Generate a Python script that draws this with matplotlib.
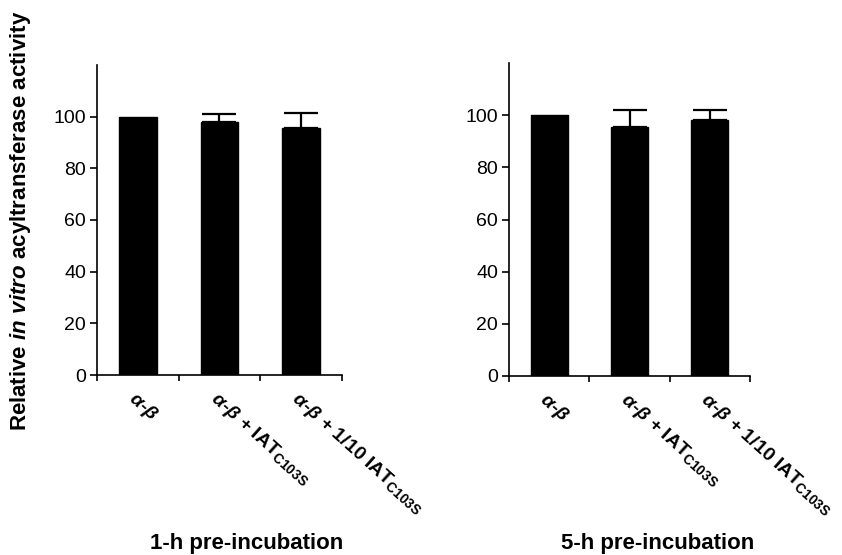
import matplotlib
matplotlib.use("Agg")
import matplotlib.pyplot as plt
import numpy as np

plt.rcParams['font.family'] = ['Liberation Sans', 'DejaVu Sans']
plt.rcParams['mathtext.fontset'] = 'custom'
plt.rcParams['mathtext.rm'] = 'Liberation Sans:bold'
plt.rcParams['mathtext.bf'] = 'Liberation Sans:bold'
plt.rcParams['mathtext.it'] = 'Liberation Sans:italic:bold'
plt.rcParams['mathtext.sf'] = 'Liberation Sans:bold'

categories = [r'$\alpha$-$\beta$',
              r'$\alpha$-$\beta$ + IAT$_{\mathrm{C103S}}$',
              r'$\alpha$-$\beta$ + 1/10 IAT$_{\mathrm{C103S}}$']
values_1h = [100.0, 98.0, 95.8]
errors_1h = [0.0, 2.9, 5.5]
values_5h = [100.0, 95.6, 98.1]
errors_5h = [0.0, 6.2, 4.0]
yticks = [0, 20, 40, 60, 80, 100]
panel_titles = ['1-h pre-incubation', '5-h pre-incubation']

fig = plt.figure(figsize=(8.42, 5.55), dpi=100)
ax1 = fig.add_axes([97/842, 1-375/555, 245/842, 310/555])
ax2 = fig.add_axes([509/842, 1-376/555, 241/842, 313/555])

for ax, vals, errs in [(ax1, values_1h, errors_1h), (ax2, values_5h, errors_5h)]:
    x = np.arange(len(vals))
    ax.bar(x, vals, width=0.46, color='black', edgecolor='black')
    for xi, v, e in zip(x, vals, errs):
        if e > 0:
            ax.errorbar([xi], [v], yerr=[[0], [e]], fmt='none', ecolor='black',
                        elinewidth=1.6, capsize=12, capthick=1.6)
    ax.set_xlim(-0.5, len(vals) - 0.5)
    ax.set_ylim(0, 120)
    ax.set_yticks(yticks)
    ax.set_yticklabels([str(t) for t in yticks], fontsize=14)
    ax.set_xticks(np.arange(len(vals) + 1) - 0.5)
    ax.set_xticklabels([])
    ax.tick_params(axis='x', direction='out', length=4, width=1.2)
    ax.tick_params(axis='y', direction='out', length=5, width=1.2, pad=3)
    ax.spines['top'].set_visible(False)
    ax.spines['right'].set_visible(False)
    ax.spines['left'].set_linewidth(1.2)
    ax.spines['bottom'].set_linewidth(1.2)
    for xi, lab in zip(x, categories):
        ax.annotate(lab, xy=(xi, 0), xycoords=('data', 'axes fraction'),
                    xytext=(-5, -15), textcoords='offset points',
                    rotation=-42, rotation_mode='anchor', ha='left', va='center',
                    fontsize=14, fontweight='bold', annotation_clip=False)

fig.text(247/842, 1-543/555, panel_titles[0], ha='center', va='center',
         fontsize=16, fontweight='bold')
fig.text(658/842, 1-543/555, panel_titles[1], ha='center', va='center',
         fontsize=16, fontweight='bold')

fig.text(21/842, 1-221/555,
         r'Relative $\mathit{in\ vitro}$ acyltransferase activity',
         rotation=90, ha='center', va='center', fontsize=16, fontweight='bold')

fig.savefig('out.png', dpi=100)
